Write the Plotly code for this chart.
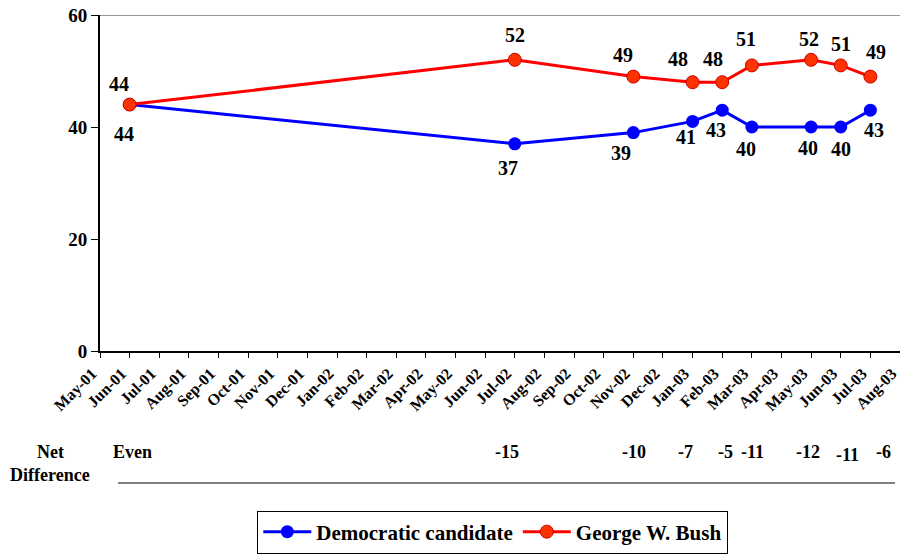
import plotly.graph_objects as go

# ---- data ----
axis_months = ["May-01", "Jun-01", "Jul-01", "Aug-01", "Sep-01", "Oct-01", "Nov-01",
               "Dec-01", "Jan-02", "Feb-02", "Mar-02", "Apr-02", "May-02", "Jun-02",
               "Jul-02", "Aug-02", "Sep-02", "Oct-02", "Nov-02", "Dec-02", "Jan-03",
               "Feb-03", "Mar-03", "Apr-03", "May-03", "Jun-03", "Jul-03", "Aug-03"]
poll_months = ["Jun-01", "Jul-02", "Nov-02", "Jan-03", "Feb-03", "Mar-03", "May-03", "Jun-03", "Jul-03"]
democratic = [44, 37, 39, 41, 43, 40, 40, 40, 43]
bush = [44, 52, 49, 48, 48, 51, 52, 51, 49]
net_difference = ["Even", "-15", "-10", "-7", "-5", "-11", "-12", "-11", "-6"]
y_ticks = [0, 20, 40, 60]

# ---- styling (label nudges in pixels) ----
FONT = "Liberation Serif, Times New Roman, serif"
bush_lbl_dx = [-11, 0, -10, -15, -9, -6, -2, 0, 6]
bush_lbl_dy = [21, 25, 22, 23, 23, 26, 21, 21, 25]
dem_lbl_dx = [-6, -7, -12, -7, -6, -6, -3, 0, 4]
dem_lbl_dy = [-29, -24, -20, -16, -20, -22, -21, -22, -20]
net_dx = [3, -8, 1, -7, 3, 1, -3, 7, 13]
net_dy = [0, 0, 0, 0, 0, 0, 0, -3, 0]

fig = go.Figure()
fig.add_trace(go.Scatter(
    x=poll_months, y=democratic, mode="lines+markers", name="Democratic candidate",
    line=dict(color="#0000FF", width=3),
    marker=dict(color="#0000FF", size=13, line=dict(width=0)),
))
fig.add_trace(go.Scatter(
    x=poll_months, y=bush, mode="lines+markers", name="George W. Bush",
    line=dict(color="#FF0000", width=3),
    marker=dict(color="#FF3300", size=13, line=dict(color="#CC0000", width=1)),
))

annotations = []
lbl_font = dict(family=FONT, size=20, color="black", weight="bold")
for i, m in enumerate(poll_months):
    annotations.append(dict(x=m, y=bush[i], xref="x", yref="y", text=str(bush[i]),
                            showarrow=False, font=lbl_font,
                            xshift=bush_lbl_dx[i], yshift=bush_lbl_dy[i]))
    annotations.append(dict(x=m, y=democratic[i], xref="x", yref="y", text=str(democratic[i]),
                            showarrow=False, font=lbl_font,
                            xshift=dem_lbl_dx[i], yshift=dem_lbl_dy[i]))

net_font = dict(family=FONT, size=18, color="black", weight="bold")
for i, m in enumerate(poll_months):
    annotations.append(dict(x=m, y=-0.3006, xref="x", yref="paper", text=net_difference[i],
                            showarrow=False, font=net_font, xshift=net_dx[i], yshift=net_dy[i],
                            xanchor="center", yanchor="middle"))
annotations.append(dict(x=-0.0625, y=-0.3006, xref="paper", yref="paper", text="Net",
                        showarrow=False, font=net_font, xanchor="center", yanchor="middle"))
annotations.append(dict(x=-0.0625, y=-0.369, xref="paper", yref="paper", text="Difference",
                        showarrow=False, font=net_font, xanchor="center", yanchor="middle"))

shapes = [
    dict(type="line", xref="paper", yref="y", x0=0, x1=1, y0=60, y1=60,
         line=dict(color="#333333", width=1)),
    dict(type="line", xref="paper", yref="paper", x0=0.0225, x1=0.99375, y0=-0.3929, y1=-0.3929,
         line=dict(color="black", width=1)),
]

fig.update_layout(
    width=900, height=555,
    margin=dict(l=100, r=0, t=15, b=204, autoexpand=False),
    paper_bgcolor="white", plot_bgcolor="white",
    font=dict(family=FONT, color="black"),
    xaxis=dict(
        type="category", categoryorder="array", categoryarray=axis_months,
        tickvals=axis_months, ticktext=axis_months, automargin=False,
        range=[0, 27], showgrid=False, zeroline=False,
        showline=True, linecolor="black", linewidth=2,
        ticks="outside", ticklen=5, tickwidth=1, tickcolor="black",
        tickangle=-45, ticklabelshift=-8,
        tickfont=dict(family=FONT, size=16, color="black", weight="bold"),
    ),
    yaxis=dict(
        range=[0, 60], tickvals=y_ticks, showgrid=False, zeroline=False, automargin=False,
        showline=True, linecolor="black", linewidth=2,
        ticks="outside", ticklen=7, tickwidth=1, tickcolor="black",
        tickfont=dict(family=FONT, size=19, color="black", weight="bold"),
    ),
    showlegend=True,
    legend=dict(
        orientation="h", x=0.491, xanchor="center", xref="paper",
        y=1.5 / 555, yanchor="bottom", yref="container",
        bordercolor="black", borderwidth=1, bgcolor="white",
        font=dict(family=FONT, size=21, color="black", weight="bold"),
        itemwidth=48,
    ),
    annotations=annotations,
    shapes=shapes,
)

fig.write_html("out.html")
